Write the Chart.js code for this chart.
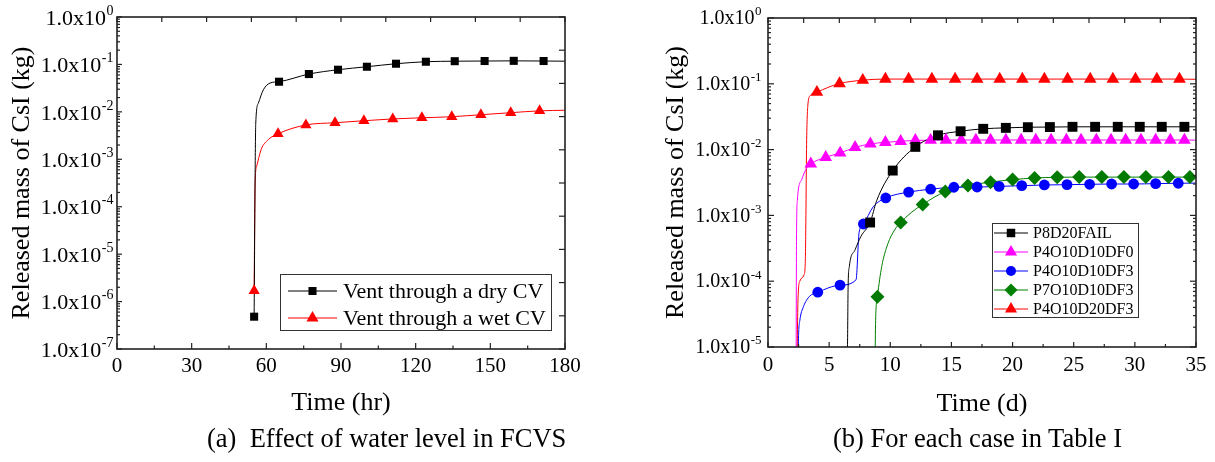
<!DOCTYPE html>
<html>
<head>
<meta charset="utf-8">
<script src="https://cdn.jsdelivr.net/npm/chart.js@4.4.1/dist/chart.umd.min.js"></script>
<style>
  html, body { margin: 0; padding: 0; background: #fff; }
  body { width: 1215px; height: 462px; position: relative; overflow: hidden;
         font-family: "Liberation Serif", "Times New Roman", serif; }
  .pane { position: absolute; top: 0; height: 462px; }
  #paneA { left: 0; width: 607px; }
  #paneB { left: 607px; width: 608px; }
  .cap { position: absolute; top: 423px; font-size: 26.5px; line-height: 30px; white-space: pre; color: #000; }
  #capA { left: 207px; }
  #capB { left: 833px; }
</style>
</head>
<body>
<div class="pane" id="paneA"><canvas id="chartA" width="607" height="462"></canvas></div>
<div class="pane" id="paneB"><canvas id="chartB" width="608" height="462"></canvas></div>
<div class="cap" id="capA">(a)  Effect of water level in FCVS</div>
<div class="cap" id="capB">(b) For each case in Table I</div>

<script>
/* Released mass of CsI, two panels, log y axes */

const SERIF = '"Liberation Serif", "Times New Roman", serif';

// ---- (a) time in hours ----
const namesA = ['Vent through a dry CV', 'Vent through a wet CV'];
const yExpA = [-7, 0];              // 1.0x10^-7 .. 1.0x10^0

// dry CV: marker points and extra curve points
const dryMarkT = [55.1, 65.1, 77.1, 88.8, 100.4, 112.1, 124.1, 135.7, 147.7, 159.4, 171.4];
const dryMarkV = [4.8e-7, 0.0432, 0.0627, 0.0773, 0.0894, 0.1035, 0.114, 0.117, 0.118, 0.119, 0.118];
const dryCurveT = [55.5, 55.75, 56.8, 58.8, 61.5, 180];
const dryCurveV = [5e-4, 5.8e-3, 0.0153, 0.0292, 0.0405, 0.117];

// wet CV
const wetMarkT = [55.1, 64.7, 75.9, 87.6, 99.2, 110.8, 122.5, 134.5, 146.2, 158.2, 169.8];
const wetMarkV = [1.7e-6, 3.45e-3, 5.3e-3, 5.9e-3, 6.5e-3, 7.1e-3, 7.5e-3, 7.9e-3, 8.7e-3, 9.6e-3, 0.0105];
const wetCurveT = [55.5, 56.1, 57.9, 60.8, 180];
const wetCurveV = [3.2e-4, 7e-4, 1.6e-3, 2.6e-3, 0.0108];

// ---- (b) time in days ----
const namesB = ['P8D20FAIL', 'P4O10D10DF0', 'P4O10D10DF3', 'P7O10D10DF3', 'P4O10D20DF3'];
const yExpB = [-5, 0];

const failMarkT = [8.35, 10.2, 12.05, 13.9, 15.75, 17.6, 19.45, 21.25, 23.05, 24.9, 26.75, 28.6, 30.4, 32.2, 34.05];
const failMarkV = [7.8e-4, 4.8e-3, 0.011, 0.0165, 0.019, 0.0207, 0.0214, 0.0219, 0.022, 0.0222, 0.0222, 0.0222, 0.0222, 0.0222, 0.0222];
const failCurveT = [6.45, 6.5, 6.55, 6.65, 7.12, 7.6, 8.9, 35];
const failCurveV = [5e-6, 1e-5, 8e-5, 1.67e-4, 3e-4, 4.8e-4, 1.7e-3, 0.0222];

const df0MarkT = [3.5, 4.72, 5.9, 7.12, 8.37, 9.6, 10.85, 12.05, 13.3, 14.55, 15.8, 17.0, 18.2, 19.45, 20.7, 21.9, 23.15, 24.4, 25.6, 26.85, 28.05, 29.25, 30.5, 31.7, 32.9, 34.05];
const df0MarkV = [6.06e-3, 7.64e-3, 8.9e-3, 0.0108, 0.0122, 0.0129, 0.0134, 0.0138, 0.0139, 0.014, 0.014, 0.014, 0.014, 0.014, 0.014, 0.014, 0.014, 0.014, 0.014, 0.014, 0.014, 0.014, 0.014, 0.014, 0.014, 0.014];
const df0CurveT = [2.3, 2.33, 2.4, 2.75, 3.1, 35];
const df0CurveV = [5e-6, 4e-4, 1.7e-3, 3.5e-3, 5e-3, 0.0139];

const df3MarkT = [4.07, 5.89, 7.8, 9.63, 11.5, 13.3, 15.2, 17.1, 18.9, 20.75, 22.6, 24.45, 26.3, 28.1, 29.9, 31.7, 33.55];
const df3MarkV = [6.8e-5, 8.7e-5, 7.4e-4, 1.84e-3, 2.26e-3, 2.5e-3, 2.68e-3, 2.7e-3, 2.76e-3, 2.83e-3, 2.9e-3, 2.93e-3, 2.97e-3, 3.0e-3, 3.0e-3, 3.04e-3, 3.08e-3];
const df3CurveT = [2.45, 2.5, 2.6, 2.9, 3.4, 7.2, 7.45, 8.6, 35];
const df3CurveV = [5e-6, 1.5e-5, 2.5e-5, 4.1e-5, 5.9e-5, 1.05e-4, 5.5e-4, 1.35e-3, 3.1e-3];

const p7MarkT = [8.95, 10.85, 12.65, 14.5, 16.35, 18.2, 20.0, 21.8, 23.65, 25.45, 27.3, 29.1, 30.9, 32.75, 34.5];
const p7MarkV = [5.8e-5, 7.8e-4, 1.47e-3, 2.3e-3, 2.85e-3, 3.2e-3, 3.5e-3, 3.7e-3, 3.8e-3, 3.82e-3, 3.82e-3, 3.82e-3, 3.82e-3, 3.82e-3, 3.82e-3];
const p7CurveT = [8.75, 8.8, 9.3, 9.8, 10.35, 11.7, 35];
const p7CurveV = [5e-6, 2.5e-5, 1.67e-4, 3.7e-4, 6e-4, 1.1e-3, 3.82e-3];

const d20MarkT = [4.0, 5.85, 7.75, 9.6, 11.5, 13.4, 15.3, 17.1, 18.95, 20.8, 22.6, 24.5, 26.35, 28.2, 30.05, 31.8, 33.65];
const d20MarkV = [0.0745, 0.101, 0.1135, 0.118, 0.118, 0.118, 0.118, 0.118, 0.118, 0.118, 0.118, 0.118, 0.118, 0.118, 0.118, 0.118, 0.118];
const d20CurveT = [2.37, 2.45, 2.6, 2.95, 3.05, 3.1, 3.15, 3.25, 3.45, 4.9, 35];
const d20CurveV = [5e-6, 5e-5, 1e-4, 1.25e-4, 2e-4, 1e-3, 0.01, 0.045, 0.066, 0.088, 0.117];

// ---------- helpers ----------
function toPts(t, v) {
    return t.map((x, i) => ({ x: x, y: v[i] }));
}

// line goes through the marker points plus the extra points
function curvePts(ct, cv, mt, mv) {
    return toPts(ct.concat(mt), cv.concat(mv)).sort((a, b) => a.x - b.x);
}

function lineDs(data, color) {
    return {
        data: data, borderColor: color, borderWidth: 1, pointRadius: 0,
        cubicInterpolationMode: 'monotone', fill: false, order: 10
    };
}

function markDs(data, color, style, r) {
    return {
        data: data, showLine: false, pointStyle: style, pointRadius: r,
        pointBackgroundColor: color, pointBorderColor: color, pointBorderWidth: 0,
        backgroundColor: color, borderColor: color, order: 1
    };
}

// 1..9 x 10^e for every decade
function logTicks(lo, hi) {
    const out = [];
    for (let e = lo; e < hi; e++) {
        for (let m = 1; m <= 9; m++) out.push({ value: Number((m * Math.pow(10, e)).toPrecision(3)) });
    }
    out.push({ value: Math.pow(10, hi) });
    return out;
}

function isPow10(v) {
    const l = Math.log10(v);
    return Math.abs(l - Math.round(l)) < 1e-6;
}

// frame, inside tick marks and the 1.0x10^n labels
const framePlugin = {
    id: 'frame',
    afterDatasetsDraw(chart, args, o) {
        const ctx = chart.ctx;
        const a = chart.chartArea;
        ctx.save();
        ctx.strokeStyle = '#222';
        ctx.lineWidth = 1.2;
        o.marks.forEach(m => {
            const sc = chart.scales[m.scale];
            sc.ticks.forEach(t => {
                const major = m.every === 'log' ? isPow10(t.value) : (Math.abs(t.value / m.every - Math.round(t.value / m.every)) < 1e-6);
                const len = major ? m.major : m.minor;
                if (!len) return;
                const p = sc.getPixelForValue(t.value);
                ctx.beginPath();
                if (m.side === 'bottom') { ctx.moveTo(p, a.bottom); ctx.lineTo(p, a.bottom - len); }
                if (m.side === 'top') { ctx.moveTo(p, a.top); ctx.lineTo(p, a.top + len); }
                if (m.side === 'left') { ctx.moveTo(a.left, p); ctx.lineTo(a.left + len, p); }
                if (m.side === 'right') { ctx.moveTo(a.right, p); ctx.lineTo(a.right - len, p); }
                ctx.stroke();
            });
        });
        ctx.lineWidth = 1.6;
        ctx.strokeRect(a.left, a.top, a.right - a.left, a.bottom - a.top);

        // y labels like 1.0x10^-3
        const lab = o.labels;
        const ys = chart.scales.y;
        ctx.fillStyle = '#000';
        ctx.textBaseline = 'middle';
        ys.ticks.forEach(t => {
            if (!isPow10(t.value)) return;
            const p = ys.getPixelForValue(t.value);
            const ex = String(Math.round(Math.log10(t.value)));
            ctx.font = lab.exp + 'px ' + SERIF;
            const ew = ctx.measureText(ex).width;
            const x = a.left - lab.gap - ew;
            ctx.textAlign = 'left';
            ctx.fillText(ex, x + 0.5, p + lab.dy - lab.raise);
            ctx.font = lab.main + 'px ' + SERIF;
            ctx.textAlign = 'right';
            ctx.fillText('1.0x10', x, p + lab.dy);
        });
        ctx.restore();
    }
};

// boxed legend with line + marker samples
const boxLegendPlugin = {
    id: 'boxLegend',
    afterDraw(chart, args, o) {
        const ctx = chart.ctx;
        const a = chart.chartArea;
        const bx = a.right - o.right - o.width;
        const by = a.bottom - o.bottom - o.height;
        ctx.save();
        ctx.lineWidth = 1;
        ctx.strokeStyle = '#333';
        ctx.strokeRect(bx + 0.5, by + 0.5, o.width, o.height);
        o.items.forEach((it, i) => {
            const y = by + o.firstRow + i * o.rowStep;
            const x0 = bx + o.lineStart;
            const x1 = x0 + o.lineLen;
            ctx.strokeStyle = it.color;
            ctx.lineWidth = 1;
            ctx.beginPath();
            ctx.moveTo(x0, y);
            ctx.lineTo(x1, y);
            ctx.stroke();
            ctx.fillStyle = it.color;
            Chart.helpers.drawPoint(ctx, { pointStyle: it.style, radius: it.radius, rotation: 0, borderWidth: 0 }, (x0 + x1) / 2, y);
            ctx.fillStyle = '#000';
            ctx.font = o.size + 'px ' + SERIF;
            ctx.textAlign = 'left';
            ctx.textBaseline = 'middle';
            ctx.fillText(it.text, x1 + o.textGap, y + 1);
        });
        ctx.restore();
    }
};

Chart.register(framePlugin, boxLegendPlugin);

function axisTitle(text, pad) {
    return { display: true, text: text, color: '#000', font: { family: SERIF, size: 26 }, padding: pad };
}

// ---------- chart (a) ----------
new Chart(document.getElementById('chartA'), {
    type: 'line',
    data: {
        datasets: [
            lineDs(curvePts(dryCurveT, dryCurveV, dryMarkT, dryMarkV), '#000000'),
            markDs(toPts(dryMarkT, dryMarkV), '#000000', 'rect', 5.7),
            lineDs(curvePts(wetCurveT, wetCurveV, wetMarkT, wetMarkV), '#ff0000'),
            markDs(toPts(wetMarkT, wetMarkV), '#ff0000', 'triangle', 6.5)
        ]
    },
    options: {
        responsive: false,
        animation: false,
        events: [],
        layout: { padding: { left: 0, right: 42, top: 17, bottom: 43 } },
        plugins: {
            legend: { display: false },
            tooltip: { enabled: false },
            frame: {
                marks: [
                    { side: 'bottom', scale: 'x', every: 30, major: 6, minor: 3.5 },
                    { side: 'top', scale: 'xTop', every: 18, major: 5, minor: 5 },
                    { side: 'left', scale: 'y', every: 'log', major: 5, minor: 3 },
                    { side: 'right', scale: 'yRight', every: 1, major: 6, minor: 6 }
                ],
                labels: { main: 22, exp: 14, gap: 4, dy: 2, raise: 8 }
            },
            boxLegend: {
                right: 14, bottom: 19, width: 271, height: 56,
                firstRow: 17, rowStep: 27, lineStart: 8, lineLen: 49, textGap: 6, size: 22,
                items: [
                    { text: namesA[0], color: '#000000', style: 'rect', radius: 5.7 },
                    { text: namesA[1], color: '#ff0000', style: 'triangle', radius: 7 }
                ]
            }
        },
        scales: {
            x: {
                type: 'linear', position: 'bottom', min: 0, max: 180,
                grid: { display: false }, border: { display: false },
                ticks: {
                    stepSize: 15, autoSkip: false, maxRotation: 0, padding: -3, color: '#000',
                    font: { family: SERIF, size: 21 },
                    callback: v => (v % 30 === 0 ? String(v) : '')
                },
                title: axisTitle('Time (hr)', 0),
                afterFit: s => { s.height = 70; }
            },
            xTop: { type: 'linear', position: 'top', display: false, min: 0, max: 180, ticks: { stepSize: 18 } },
            y: {
                type: 'logarithmic', position: 'left', min: Math.pow(10, yExpA[0]), max: Math.pow(10, yExpA[1]),
                grid: { display: false }, border: { display: false },
                ticks: { display: false },
                title: axisTitle('Released mass of CsI (kg)', { top: 7, bottom: 0 }),
                afterBuildTicks: s => { s.ticks = logTicks(yExpA[0], yExpA[1]); },
                afterFit: s => { s.width = 117; }
            },
            yRight: { type: 'linear', position: 'right', display: false, min: 0, max: 10, ticks: { stepSize: 1 } }
        }
    }
});

// ---------- chart (b) ----------
new Chart(document.getElementById('chartB'), {
    type: 'line',
    data: {
        datasets: [
            lineDs(curvePts(failCurveT, failCurveV, failMarkT, failMarkV), '#000000'),
            markDs(toPts(failMarkT, failMarkV), '#000000', 'rect', 7),
            lineDs(curvePts(df0CurveT, df0CurveV, df0MarkT, df0MarkV), '#ff00ff'),
            markDs(toPts(df0MarkT, df0MarkV), '#ff00ff', 'triangle', 7.3),
            lineDs(curvePts(df3CurveT, df3CurveV, df3MarkT, df3MarkV), '#0000ff'),
            markDs(toPts(df3MarkT, df3MarkV), '#0000ff', 'circle', 5.4),
            lineDs(curvePts(p7CurveT, p7CurveV, p7MarkT, p7MarkV), '#008000'),
            markDs(toPts(p7MarkT, p7MarkV), '#007a00', 'rectRot', 7),
            lineDs(curvePts(d20CurveT, d20CurveV, d20MarkT, d20MarkV), '#ff0000'),
            markDs(toPts(d20MarkT, d20MarkV), '#ff0000', 'triangle', 7.3)
        ]
    },
    options: {
        responsive: false,
        animation: false,
        events: [],
        layout: { padding: { left: 50, right: 19, top: 18, bottom: 42 } },
        plugins: {
            legend: { display: false },
            tooltip: { enabled: false },
            frame: {
                marks: [
                    { side: 'bottom', scale: 'x', every: 5, major: 5, minor: 3 },
                    { side: 'top', scale: 'xTop', every: 1, major: 5, minor: 5 },
                    { side: 'left', scale: 'y', every: 'log', major: 6, minor: 3 },
                    { side: 'right', scale: 'y', every: 'log', major: 6, minor: 3 }
                ],
                labels: { main: 20, exp: 13, gap: 7, dy: 1, raise: 7 }
            },
            boxLegend: {
                right: 58, bottom: 30, width: 146, height: 94,
                firstRow: 10, rowStep: 19, lineStart: 2, lineLen: 34, textGap: 5, size: 16,
                items: [
                    { text: namesB[0], color: '#000000', style: 'rect', radius: 6 },
                    { text: namesB[1], color: '#ff00ff', style: 'triangle', radius: 7 },
                    { text: namesB[2], color: '#0000ff', style: 'circle', radius: 5 },
                    { text: namesB[3], color: '#008000', style: 'rectRot', radius: 6.5 },
                    { text: namesB[4], color: '#ff0000', style: 'triangle', radius: 7 }
                ]
            }
        },
        scales: {
            x: {
                type: 'linear', position: 'bottom', min: 0, max: 35,
                grid: { display: false }, border: { display: false },
                ticks: {
                    stepSize: 2.5, autoSkip: false, maxRotation: 0, padding: -2, color: '#000',
                    font: { family: SERIF, size: 21 },
                    callback: v => (v % 5 === 0 ? String(v) : '')
                },
                title: axisTitle('Time (d)', 0),
                afterFit: s => { s.height = 73; }
            },
            xTop: { type: 'linear', position: 'top', display: false, min: 0, max: 12, ticks: { stepSize: 1 } },
            y: {
                type: 'logarithmic', position: 'left', min: Math.pow(10, yExpB[0]), max: Math.pow(10, yExpB[1]),
                grid: { display: false }, border: { display: false },
                ticks: { display: false },
                title: axisTitle('Released mass of CsI (kg)', { top: 4, bottom: 0 }),
                afterBuildTicks: s => { s.ticks = logTicks(yExpB[0], yExpB[1]); },
                afterFit: s => { s.width = 111; }
            }
        }
    }
});
</script>
</body>
</html>
